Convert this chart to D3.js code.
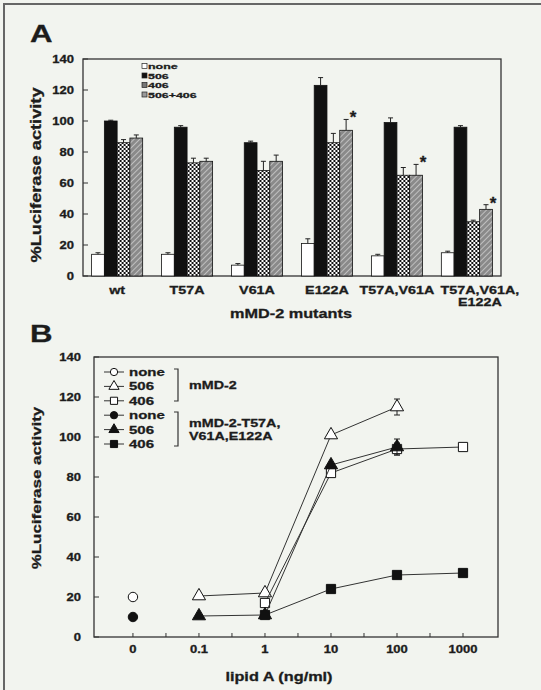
<!DOCTYPE html>
<html>
<head>
<meta charset="utf-8">
<script src="https://cdn.jsdelivr.net/npm/d3@7"></script>
<style>
body { margin: 0; background: #f2f4ef; }
text { font-family: "Liberation Sans", Arial, sans-serif; font-weight: bold; fill: #1c1c1c; stroke: #1c1c1c; stroke-width: 0.3px; }
</style>
</head>
<body>
<script>
// ---- panel A : bar chart ----
var categories = [["wt"], ["T57A"], ["V61A"], ["E122A"], ["T57A,V61A"], ["T57A,V61A,", "E122A"]];
var treatments = ["none", "506", "406", "506+406"];
var valsNone = [14, 14, 7, 21, 13, 15];
var vals506 = [100, 96, 86, 123, 99, 96];
var vals406 = [86, 73, 68, 86, 65, 35];
var vals506406 = [89, 74, 74, 94, 65, 43];
var errNone = [1, 1, 1, 3, 1, 1];
var err506 = [0.5, 1, 1, 5, 3, 1];
var err406 = [2, 3, 6, 6, 5, 1];
var err506406 = [2, 2, 4, 7, 7, 3];
var starred = [false, false, false, true, true, true];
var yTicksA = [0, 20, 40, 60, 80, 100, 120, 140];

// ---- panel B : dose response ----
var doses = [0, 0.1, 1, 10, 100, 1000];
var doseLabels = ["0", "0.1", "1", "10", "100", "1000"];
var yTicksB = [0, 20, 40, 60, 80, 100, 120, 140];
var wtNoneX = [0], wtNoneY = [20], wtNoneE = [0];
var wt506X = [0.1, 1, 10, 100], wt506Y = [20.5, 22, 101, 115], wt506E = [0, 0, 0, 4];
var wt406X = [1, 10, 100, 1000], wt406Y = [17, 82, 94, 95], wt406E = [0, 0, 3, 0];
var mutNoneX = [0], mutNoneY = [10], mutNoneE = [0];
var mut506X = [0.1, 1, 10, 100], mut506Y = [10.5, 11, 86, 95], mut506E = [0, 0, 0, 4];
var mut406X = [1, 10, 100, 1000], mut406Y = [11, 24, 31, 32], mut406E = [0, 0, 0, 0];

var svg = d3.select("body").append("svg").attr("width", 541).attr("height", 690);
svg.append("rect").attr("width", 541).attr("height", 690).attr("fill", "#f2f4ef");
// scan border (top + left)
svg.append("path").attr("d", "M4,690V4H541").attr("fill", "none").attr("stroke", "#666").attr("stroke-width", 2);

var defs = svg.append("defs");
var chk = defs.append("pattern").attr("id", "chk").attr("patternUnits", "userSpaceOnUse").attr("width", 4).attr("height", 4);
chk.append("rect").attr("width", 4).attr("height", 4).attr("fill", "#fff");
chk.append("rect").attr("width", 2).attr("height", 2).attr("fill", "#111");
chk.append("rect").attr("x", 2).attr("y", 2).attr("width", 2).attr("height", 2).attr("fill", "#111");
var hat = defs.append("pattern").attr("id", "hat").attr("patternUnits", "userSpaceOnUse").attr("width", 4).attr("height", 4)
    .attr("patternTransform", "rotate(45)");
hat.append("rect").attr("width", 4).attr("height", 4).attr("fill", "#8a8a8a");
hat.append("line").attr("x1", 0).attr("y1", 0).attr("x2", 0).attr("y2", 4).attr("stroke", "#d8d8d8").attr("stroke-width", 1.4);

var fills = {"none": "#fff", "506": "#111", "406": "url(#chk)", "506+406": "url(#hat)"};
var legFills = {"none": "#fff", "506": "#111", "406": "#777", "506+406": "#999"};

// ===================== Panel A =====================
var xA = d3.scaleBand().domain(d3.range(categories.length)).range([83, 501]).paddingInner(0.27).paddingOuter(0.123);
var xA1 = d3.scaleBand().domain(treatments).range([0, xA.bandwidth()]);
var yA = d3.scaleLinear().domain([0, 140]).range([276, 59]);

var rows = categories.map(function(c, i) {
    return [
        {t: "none", v: valsNone[i], e: errNone[i]},
        {t: "506", v: vals506[i], e: err506[i]},
        {t: "406", v: vals406[i], e: err406[i]},
        {t: "506+406", v: vals506406[i], e: err506406[i]}
    ];
});

var gA = svg.append("g");
gA.append("rect").attr("x", 83).attr("y", yA(140)).attr("width", 501 - 83).attr("height", yA(0) - yA(140))
    .attr("fill", "none").attr("stroke", "#333").attr("stroke-width", 1.3);

var grp = gA.selectAll(".grp").data(rows).enter().append("g")
    .attr("transform", function(d, i) { return "translate(" + xA(i) + ",0)"; });
grp.selectAll("rect").data(function(d) { return d; }).enter().append("rect")
    .attr("x", function(d) { return xA1(d.t); })
    .attr("y", function(d) { return yA(d.v); })
    .attr("width", xA1.bandwidth())
    .attr("height", function(d) { return yA(0) - yA(d.v); })
    .attr("fill", function(d) { return fills[d.t]; })
    .attr("stroke", "#111").attr("stroke-width", 0.8);
grp.selectAll(".err").data(function(d) { return d; }).enter().append("path")
    .attr("d", function(d) {
        var cx = xA1(d.t) + xA1.bandwidth() / 2;
        return "M" + cx + "," + yA(d.v) + "V" + yA(d.v + d.e) + "M" + (cx - 2.5) + "," + yA(d.v + d.e) + "H" + (cx + 2.5);
    })
    .attr("stroke", "#222").attr("stroke-width", 1).attr("fill", "none");

// stars
gA.selectAll(".star").data(rows.filter(function(d, i) { return starred[i]; })).enter().append("text")
    .attr("x", function(d) { return xA(rows.indexOf(d)) + xA1("506+406") + xA1.bandwidth() / 2 + 7; })
    .attr("y", function(d) { return yA(d[3].v + d[3].e) - 5 + 9; })
    .attr("text-anchor", "middle").attr("font-size", 17).text("*");

// y axis A (ticks inward)
gA.selectAll(".ty").data(yTicksA).enter().append("line")
    .attr("x1", 83).attr("x2", 88).attr("y1", yA).attr("y2", yA).attr("stroke", "#333");
gA.selectAll(".ly").data(yTicksA).enter().append("text").attr("class", "w")
    .attr("x", 74).attr("y", function(d) { return yA(d) + 3.5; })
    .attr("text-anchor", "end").attr("font-size", 10).text(function(d) { return d; });

// category labels
gA.selectAll(".cl").data(categories).enter().append("text").attr("class", "w")
    .attr("x", function(d, i) { return xA(i) + xA.bandwidth() / 2 + (d.length > 1 ? 13 : 0); })
    .attr("y", 294).attr("text-anchor", "middle").attr("font-size", 11)
    .each(function(d) {
        var t = d3.select(this);
        d.forEach(function(line, k) {
            t.append("tspan").attr("x", t.attr("x")).attr("dy", k ? 12 : 0).text(line);
        });
    });

gA.append("text").attr("class", "w").attr("x", 291).attr("y", 318).attr("text-anchor", "middle")
    .attr("font-size", 12.5).text("mMD-2 mutants");
gA.append("text").attr("class", "w").attr("transform", "translate(41,175) rotate(-90)")
    .attr("text-anchor", "middle").attr("font-size", 14).text("%Luciferase activity");
gA.append("text").attr("class", "w").attr("x", 30).attr("y", 42).attr("font-size", 24).text("A");

// legend A
var legA = gA.append("g");
treatments.forEach(function(t, i) {
    var ly = 66 + i * 9.5;
    legA.append("rect").attr("x", 142).attr("y", ly - 2.5).attr("width", 5).attr("height", 5)
        .attr("fill", legFills[t]).attr("stroke", "#222").attr("stroke-width", 0.7);
    legA.append("text").attr("class", "w").attr("data-s", 1.55).attr("x", 148).attr("y", ly + 3)
        .attr("font-size", 8).text(t);
});

// ===================== Panel B =====================
var xB = d3.scaleLog().domain([Math.pow(10, -2.59), Math.pow(10, 3.53)]).range([94, 498]);
var yB = d3.scaleLinear().domain([0, 140]).range([637, 357]);
function bx(v) { return xB(v === 0 ? 0.01 : v); }

var gB = svg.append("g");
gB.append("rect").attr("x", 94).attr("y", yB(140)).attr("width", 498 - 94).attr("height", yB(0) - yB(140))
    .attr("fill", "none").attr("stroke", "#333").attr("stroke-width", 1.3);

gB.selectAll(".ty").data(yTicksB).enter().append("line")
    .attr("x1", 94).attr("x2", 99).attr("y1", yB).attr("y2", yB).attr("stroke", "#333");
gB.selectAll(".ly").data(yTicksB).enter().append("text").attr("class", "w")
    .attr("x", 81).attr("y", function(d) { return yB(d) + 3.5; })
    .attr("text-anchor", "end").attr("font-size", 10).text(function(d) { return d; });

var minor = doses.slice(1).map(function(d, i) { return Math.sqrt(d * (doses[i] || 0.01)); });
gB.selectAll(".tx").data(doses.concat(minor)).enter().append("line")
    .attr("x1", bx).attr("x2", bx).attr("y1", yB(0)).attr("y2", yB(0) - 4).attr("stroke", "#333");
gB.selectAll(".lx").data(doses).enter().append("text").attr("class", "w")
    .attr("x", bx).attr("y", yB(0) + 16).attr("text-anchor", "middle").attr("font-size", 10)
    .text(function(d, i) { return doseLabels[i]; });

gB.append("text").attr("class", "w").attr("x", 279).attr("y", 681).attr("text-anchor", "middle")
    .attr("font-size", 12.5).text("lipid A (ng/ml)");
gB.append("text").attr("class", "w").attr("transform", "translate(41,488) rotate(-90)")
    .attr("text-anchor", "middle").attr("font-size", 13).text("%Luciferase activity");
gB.append("text").attr("class", "w").attr("x", 30).attr("y", 342).attr("font-size", 24).text("B");

var seriesB = [
    {name: "none", sym: d3.symbolCircle, fill: "#fff", x: wtNoneX, y: wtNoneY, e: wtNoneE},
    {name: "506", sym: d3.symbolTriangle, fill: "#fff", x: wt506X, y: wt506Y, e: wt506E},
    {name: "406", sym: d3.symbolSquare, fill: "#fff", x: wt406X, y: wt406Y, e: wt406E},
    {name: "none", sym: d3.symbolCircle, fill: "#111", x: mutNoneX, y: mutNoneY, e: mutNoneE},
    {name: "506", sym: d3.symbolTriangle, fill: "#111", x: mut506X, y: mut506Y, e: mut506E},
    {name: "406", sym: d3.symbolSquare, fill: "#111", x: mut406X, y: mut406Y, e: mut406E}
];
function sz(s, k) { return s === d3.symbolCircle ? 70 * k : s === d3.symbolTriangle ? 75 * k : 85 * k; }

var line = d3.line().x(function(p) { return bx(p[0]); }).y(function(p) { return yB(p[1]); });
seriesB.forEach(function(s) {
    var pts = s.x.map(function(v, i) { return [v, s.y[i], s.e[i]]; });
    var g = gB.append("g");
    if (pts.length > 1) {
        g.append("path").attr("d", line(pts)).attr("fill", "none").attr("stroke", "#333").attr("stroke-width", 1);
    }
    g.selectAll(".eb").data(pts.filter(function(p) { return p[2] > 0; })).enter().append("path")
        .attr("d", function(p) {
            var cx = bx(p[0]);
            return "M" + cx + "," + yB(p[1] - p[2]) + "V" + yB(p[1] + p[2]) +
                "M" + (cx - 3) + "," + yB(p[1] + p[2]) + "H" + (cx + 3) +
                "M" + (cx - 3) + "," + yB(p[1] - p[2]) + "H" + (cx + 3);
        })
        .attr("stroke", "#222").attr("fill", "none");
    g.selectAll(".m").data(pts).enter().append("path")
        .attr("d", d3.symbol().type(s.sym).size(sz(s.sym, 1)))
        .attr("transform", function(p) { return "translate(" + bx(p[0]) + "," + yB(p[1]) + ")"; })
        .attr("fill", s.fill).attr("stroke", "#111").attr("stroke-width", 1);
});

// legend B
var legB = gB.append("g");
seriesB.forEach(function(s, i) {
    var ly = 372 + i * 14.4;
    legB.append("line").attr("x1", 104).attr("x2", 124).attr("y1", ly).attr("y2", ly).attr("stroke", "#333");
    legB.append("path").attr("d", d3.symbol().type(s.sym).size(sz(s.sym, 0.6)))
        .attr("transform", "translate(114," + ly + ")")
        .attr("fill", s.fill).attr("stroke", "#111");
    legB.append("text").attr("class", "w").attr("x", 129).attr("y", ly + 4).attr("font-size", 11.5).text(s.name);
});
[[369, 401, ["mMD-2"]], [412, 446, ["mMD-2-T57A,", "V61A,E122A"]]].forEach(function(b) {
    legB.append("path").attr("d", "M174," + b[0] + "H178V" + b[1] + "H174")
        .attr("fill", "none").attr("stroke", "#333").attr("stroke-width", 1.2);
    var mid = (b[0] + b[1]) / 2;
    b[2].forEach(function(t, k) {
        legB.append("text").attr("class", "w").attr("x", 189)
            .attr("y", mid + 4 + (k - (b[2].length - 1) / 2) * 13).attr("font-size", 11).text(t);
    });
});

// the figure font is a wide grotesque: stretch every label along its direction
d3.selectAll("text.w").each(function() {
    var t = d3.select(this), s = +(t.attr("data-s") || 1.3);
    if (t.selectAll("tspan").size()) {
        t.selectAll("tspan").each(function() {
            d3.select(this).attr("textLength", this.getComputedTextLength() * s).attr("lengthAdjust", "spacingAndGlyphs");
        });
    } else {
        t.attr("textLength", this.getComputedTextLength() * s).attr("lengthAdjust", "spacingAndGlyphs");
    }
});
</script>
</body>
</html>
